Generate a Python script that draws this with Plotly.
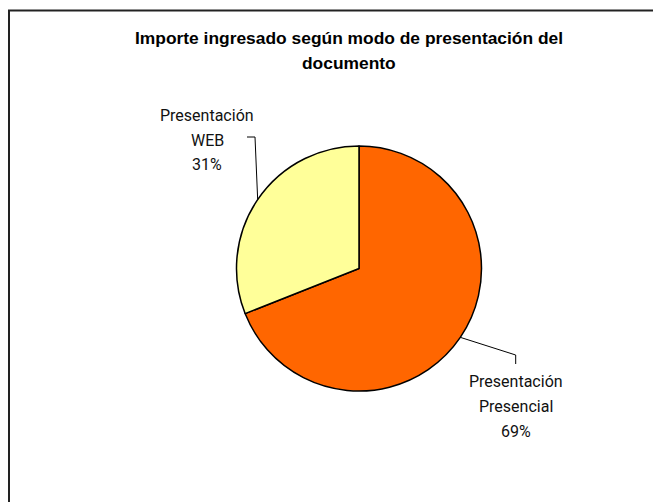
import math
import plotly.graph_objects as go

labels = ["Presentación Presencial", "Presentación WEB"]
label_lines = [["Presentación", "Presencial"], ["Presentación", "WEB"]]
values = [69, 31]
colors = ["#FF6600", "#FFFF99"]
title_lines = ["Importe ingresado según modo de presentación del", "documento"]

W, H = 661, 502
OFF = 8  # page body margin of the browser
cx, cy, r = 359.0, 268.5, 122.5  # pie centre / radius in px (layout)

def px(x):
    return (x - OFF) / W

def py(y):
    return 1 - (y - OFF) / H

fig = go.Figure(go.Pie(
    labels=labels, values=values, sort=False, direction="clockwise", rotation=0,
    marker=dict(colors=colors, line=dict(color="#000000", width=1.5)),
    textinfo="none", hoverinfo="label+percent", showlegend=False,
    domain=dict(x=[px(cx - r), px(cx + r)], y=[py(cy + r), py(cy - r)]),
))

total = sum(values)
label_layout = [
    dict(lx=516, ly0=381, elbow=(515.7, 355.0), end=(515.7, 364.0)),
    dict(lx=207, ly0=115, elbow=(255.0, 137.0), end=(247.0, 137.0)),
]
LINE = 25
label_font = dict(family="Roboto, sans-serif", size=16, color="#111111")
shapes = []
annotations = []
cum = 0
for i, v in enumerate(values):
    mid = (cum + v / 2) / total * 2 * math.pi
    cum += v
    ex = cx + r * math.sin(mid)
    ey = cy - r * math.cos(mid)
    L = label_layout[i]
    path = "M {} {} L {} {} L {} {}".format(
        px(ex), py(ey), px(L["elbow"][0]), py(L["elbow"][1]), px(L["end"][0]), py(L["end"][1]))
    shapes.append(dict(type="path", path=path, xref="paper", yref="paper",
                       line=dict(color="#000000", width=1)))
    pct = round(v / total * 100)
    lines = label_lines[i] + ["{}%".format(pct)]
    for k, t in enumerate(lines):
        annotations.append(dict(
            text=t, x=px(L["lx"]), y=py(L["ly0"] + k * LINE),
            xref="paper", yref="paper", showarrow=False, xanchor="center", yanchor="middle",
            font=label_font))

for k, t in enumerate(title_lines):
    annotations.append(dict(
        text="<b>{}</b>".format(t), x=px(348.5), y=py(38 + k * 25), xref="paper", yref="paper",
        showarrow=False, xanchor="center", yanchor="middle",
        font=dict(family="Liberation Sans, Arial, sans-serif", size=17.4, color="#000000")))

# outer chart border (right and bottom edges fall outside the picture)
shapes.append(dict(type="rect", xref="paper", yref="paper", x0=px(9), x1=px(W + 40),
                   y0=py(H + 40), y1=py(10.5), line=dict(color="#222222", width=2)))

fig.update_layout(width=W, height=H, margin=dict(l=0, r=0, t=0, b=0),
                  paper_bgcolor="white", plot_bgcolor="white",
                  shapes=shapes, annotations=annotations)
fig.write_html("out.html")
